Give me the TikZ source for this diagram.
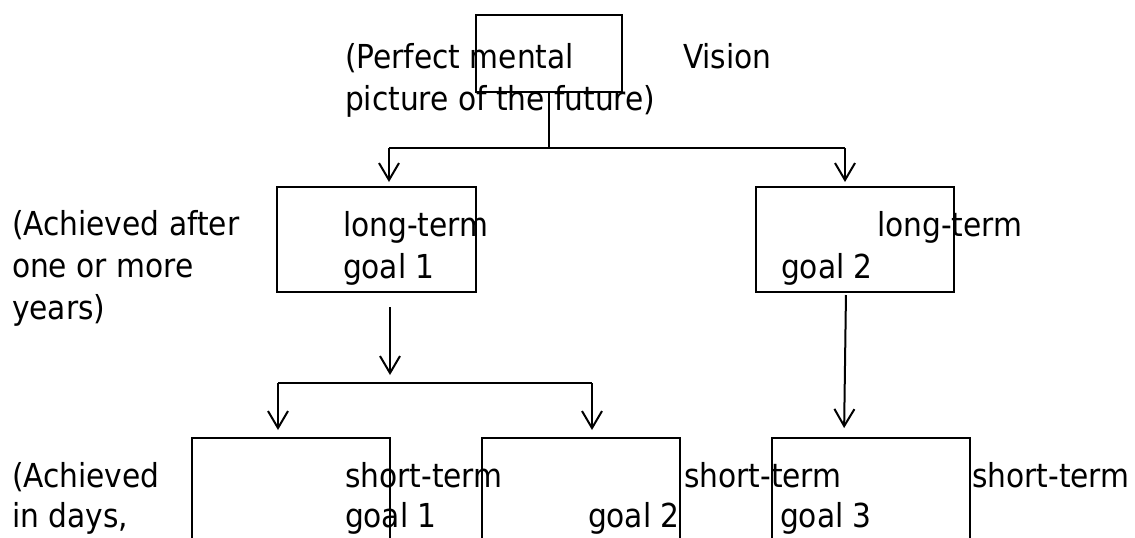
\documentclass[tikz,border=0pt]{standalone}
\usepackage{fontspec}
\setmainfont{DejaVu Sans Condensed}
\usetikzlibrary{arrows.meta}
\tikzset{
  lbl/.style={anchor=base west, inner sep=0pt, outer sep=0pt, font=\fontsize{16.5pt}{21pt}\selectfont},
  goalbox/.style={draw, line width=1pt, anchor=north west, inner sep=0pt, outer sep=0pt},
  conn/.style={line width=1pt},
  arr/.style={conn, -{Straight Barb[length=8.5pt,width=10pt]}}
}
\begin{document}
\begin{tikzpicture}[x=0.5pt, y=-0.5pt]
\useasboundingbox (0,0) rectangle (1135,537);
\clip (0,0) rectangle (1135,537);

% boxes
\node[goalbox, minimum width=73pt, minimum height=38.5pt] (vision) at (476,15) {};
\node[goalbox, minimum width=99.5pt, minimum height=52.5pt] (lt1) at (277,187) {};
\node[goalbox, minimum width=99pt, minimum height=52.5pt] (lt2) at (756,187) {};
\node[goalbox, minimum width=99pt, minimum height=80pt] (st1) at (192,438) {};
\node[goalbox, minimum width=99pt, minimum height=80pt] (st2) at (482,438) {};
\node[goalbox, minimum width=99pt, minimum height=80pt] (st3) at (772,438) {};

% texts
\node[lbl] (t1a) at (345,68) {(Perfect mental};
\node[lbl] (t1b) at (345,110) {picture of the future)};
\node[lbl] (tv) at (683,68) {Vision};
\node[lbl] (t2a) at (12,235) {(Achieved after};
\node[lbl] (t2b) at (12,277) {one or more};
\node[lbl] (t2c) at (12,319) {years)};
\node[lbl] (l1a) at (343,236) {long-term};
\node[lbl] (l1b) at (343,278) {goal 1};
\node[lbl] (l2a) at (877,236) {long-term};
\node[lbl] (l2b) at (781,278) {goal 2};
\node[lbl] (t3a) at (12,487) {(Achieved};
\node[lbl] (t3b) at (12,527) {in days,};
\node[lbl] (s1a) at (345,487) {short-term};
\node[lbl] (s1b) at (345,527) {goal 1};
\node[lbl] (s2a) at (684,487) {short-term};
\node[lbl] (s2b) at (588,527) {goal 2};
\node[lbl] (s3b) at (780,527) {goal 3};
\node[lbl] (s3a) at (972,487) {short-term};

% junction points
\coordinate (j1) at (549,148);
\coordinate (j1l) at (389,148);
\coordinate (j1r) at (845,148);
\coordinate (j2) at (390,383);
\coordinate (j2l) at (278,383);
\coordinate (j2r) at (592,383);
\coordinate (d1) at (390,292);
\coordinate (d2a) at (846,292);
\coordinate (d2b) at (844,438);

% connectors
\draw[conn] (vision.south) -- (j1);
\draw[conn] (j1l) -- (j1r);
\draw[arr, shorten >=2.5pt] (j1l) -- (j1l |- lt1.north);
\draw[arr, shorten >=2.5pt] (j1r) -- (j1r |- lt2.north);
\draw[arr, shorten <=7.5pt, shorten >=4pt] (d1) -- (j2);
\draw[conn] (j2l) -- (j2r);
\draw[arr, shorten >=4pt] (j2l) -- (j2l |- st1.north);
\draw[arr, shorten >=4pt] (j2r) -- (j2r |- st2.north);
\draw[arr, shorten <=1.5pt, shorten >=5pt] (d2a) -- (d2b);
\end{tikzpicture}
\end{document}
